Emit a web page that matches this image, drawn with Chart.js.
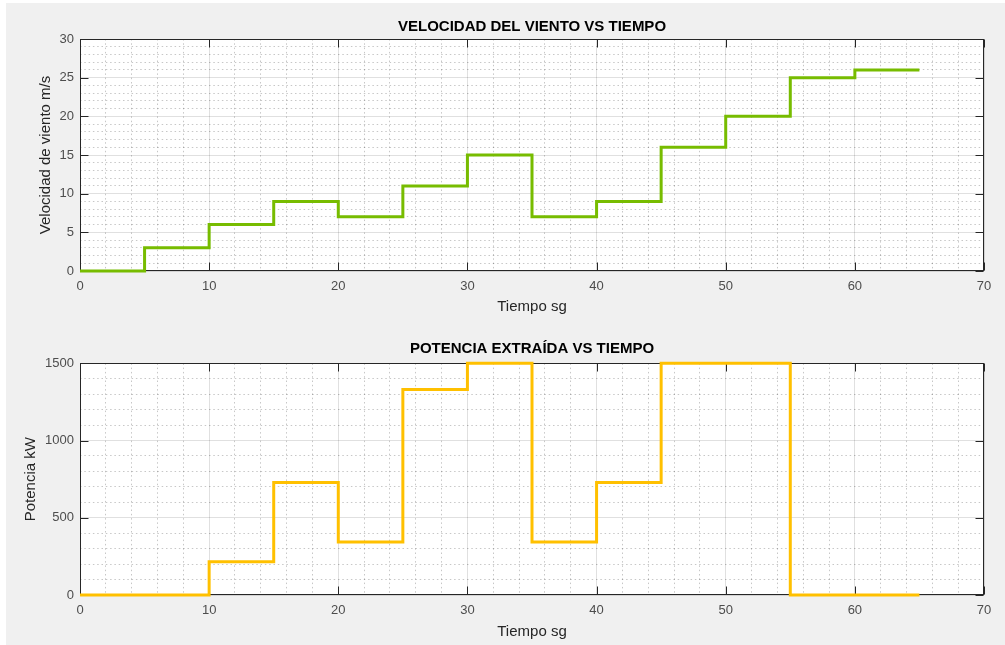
<!DOCTYPE html>
<html>
<head>
<meta charset="utf-8">
<script src="https://cdn.jsdelivr.net/npm/chart.js@4"></script>
<style>
  html, body { margin: 0; padding: 0; background: #ffffff; }
  #fig { position: absolute; left: 6px; top: 3px; width: 999px; height: 642px; background: #f0f0f0; }
  canvas { position: absolute; left: 0; }
  #speedChart { top: 0; }
  #powerChart { top: 322px; }
</style>
</head>
<body>
<div id="fig"></div>
<canvas id="speedChart" width="1005" height="322"></canvas>
<canvas id="powerChart" width="1005" height="323"></canvas>
<script>
// Step start times (s) and the value held from each start time until the next one
const stepTimes = [0, 5, 10, 15, 20, 25, 30, 35, 40, 45, 50, 55, 60];
const endTime = 65;
const windSpeed = [0, 3, 6, 9, 7, 11, 15, 7, 9, 16, 20, 25, 26];          // m/s
const powerKW = [0, 0, 216, 729, 343, 1331, 1500, 343, 729, 1500, 1500, 0, 0]; // kW

// Axis ticks
const timeTicks = [0, 10, 20, 30, 40, 50, 60, 70];
const speedTicks = [0, 5, 10, 15, 20, 25, 30];
const powerTicks = [0, 500, 1000, 1500];

const FONT = '"Liberation Sans", Arial, Helvetica, sans-serif';

function stepPoints(values) {
  const pts = stepTimes.map((t, i) => ({ x: t, y: values[i] }));
  pts.push({ x: endTime, y: values[values.length - 1] });
  return pts;
}

function fixedTicks(list) {
  return scale => { scale.ticks = list.map(v => ({ value: v })); };
}

// White plot area, then a box around it with inward-pointing tick marks on all four sides
const axesBox = {
  id: 'axesBox',
  beforeDraw(chart) {
    const { ctx, chartArea: a } = chart;
    ctx.save();
    ctx.fillStyle = '#ffffff';
    ctx.fillRect(a.left, a.top, a.right - a.left, a.bottom - a.top);
    ctx.restore();
  },
  beforeDatasetsDraw(chart) {
    const { ctx, chartArea: a, scales } = chart;
    const x = scales.x, y = scales.y;
    const L = Math.round(a.left) + 0.5, R = Math.round(a.right) - 0.5;
    const T = Math.round(a.top) + 0.5, B = Math.round(a.bottom) - 0.5;
    const len = 8;
    ctx.save();
    ctx.strokeStyle = '#262626';
    ctx.lineWidth = 1;
    ctx.beginPath();
    x.ticks.forEach(t => {
      const px = Math.round(x.getPixelForValue(t.value)) + 0.5;
      ctx.moveTo(px, B); ctx.lineTo(px, B - len);
      ctx.moveTo(px, T); ctx.lineTo(px, T + len);
    });
    y.ticks.forEach(t => {
      const py = Math.round(y.getPixelForValue(t.value)) + 0.5;
      ctx.moveTo(L, py); ctx.lineTo(L + len, py);
      ctx.moveTo(R, py); ctx.lineTo(R - len, py);
    });
    ctx.stroke();
    ctx.strokeRect(L, T, R - L, B - T);
    ctx.restore();
  }
};

function buildChart(id, cfg) {
  const tickFont = { family: FONT, size: 13 };
  const labelFont = { family: FONT, size: 15, lineHeight: 1.2 };
  const minorGrid = (major) => ({
    display: true,
    drawTicks: false,
    lineWidth: 1,
    color: c => (c.tick && c.tick.value % major === 0) ? 'rgba(0,0,0,0)' : 'rgba(0,0,0,0.22)'
  });
  return new Chart(document.getElementById(id), {
    type: 'line',
    data: {
      datasets: [{
        data: stepPoints(cfg.values),
        borderColor: cfg.color,
        borderWidth: 3,
        pointRadius: 0,
        stepped: true,
        fill: false,
        clip: 4
      }]
    },
    options: {
      responsive: false,
      animation: false,
      devicePixelRatio: 1,
      layout: { padding: { left: 0, right: 21, top: 0, bottom: 0 } },
      plugins: {
        legend: { display: false },
        tooltip: { enabled: false },
        title: {
          display: true,
          text: cfg.title,
          fullSize: false,
          color: '#000000',
          font: { family: FONT, size: 15, weight: 'bold', lineHeight: 1.2 },
          padding: cfg.titlePad
        }
      },
      scales: {
        xm: {
          type: 'linear', position: 'bottom', min: 0, max: 70,
          ticks: { display: false, stepSize: 2 },
          grid: minorGrid(10),
          border: { display: false, dash: [1.5, 2.8] },
          afterFit: s => { s.height = 0; }
        },
        ym: {
          type: 'linear', position: 'left', min: 0, max: cfg.yMax,
          ticks: { display: false, stepSize: cfg.yMinor },
          grid: minorGrid(cfg.yMajor),
          border: { display: false, dash: [1.5, 2.8] },
          afterFit: s => { s.width = 0; }
        },
        x: {
          type: 'linear', position: 'bottom', min: 0, max: 70,
          afterBuildTicks: fixedTicks(timeTicks),
          ticks: { color: '#4d4d4d', font: tickFont, padding: 8, maxRotation: 0, callback: v => String(v) },
          grid: { color: 'rgba(0,0,0,0.12)', lineWidth: 1, drawTicks: false },
          border: { display: false },
          title: {
            display: true, text: 'Tiempo sg', color: '#262626',
            font: labelFont,
            padding: { top: 0, bottom: cfg.xTitlePad }
          },
          afterFit: s => { s.height = cfg.xHeight; }
        },
        y: {
          type: 'linear', position: 'left', min: 0, max: cfg.yMax,
          afterBuildTicks: fixedTicks(cfg.yTicks),
          ticks: { color: '#4d4d4d', font: tickFont, padding: 6, callback: v => String(v) },
          grid: { color: 'rgba(0,0,0,0.12)', lineWidth: 1, drawTicks: false },
          border: { display: false },
          title: {
            display: true, text: cfg.yTitle, color: '#262626',
            font: labelFont,
            padding: { top: cfg.yTitlePad, bottom: 0 }
          },
          afterFit: s => { s.width = 80; }
        }
      }
    },
    plugins: [axesBox]
  });
}

buildChart('speedChart', {
  title: 'VELOCIDAD DEL VIENTO VS TIEMPO',
  yTitle: 'Velocidad de viento m/s',
  values: windSpeed,
  color: '#77bc00',
  yMax: 30, yMajor: 5, yMinor: 1, yTicks: speedTicks,
  titlePad: { top: 17.5, bottom: 3.5 },
  yTitlePad: 37,
  xTitlePad: 6,
  xHeight: 51
});

buildChart('powerChart', {
  title: 'POTENCIA EXTRAÍDA VS TIEMPO',
  yTitle: 'Potencia kW',
  values: powerKW,
  color: '#ffc000',
  yMax: 1500, yMajor: 500, yMinor: 100, yTicks: powerTicks,
  titlePad: { top: 17.4, bottom: 5.9 },
  yTitlePad: 22,
  xTitlePad: 4,
  xHeight: 50
});
</script>
</body>
</html>
